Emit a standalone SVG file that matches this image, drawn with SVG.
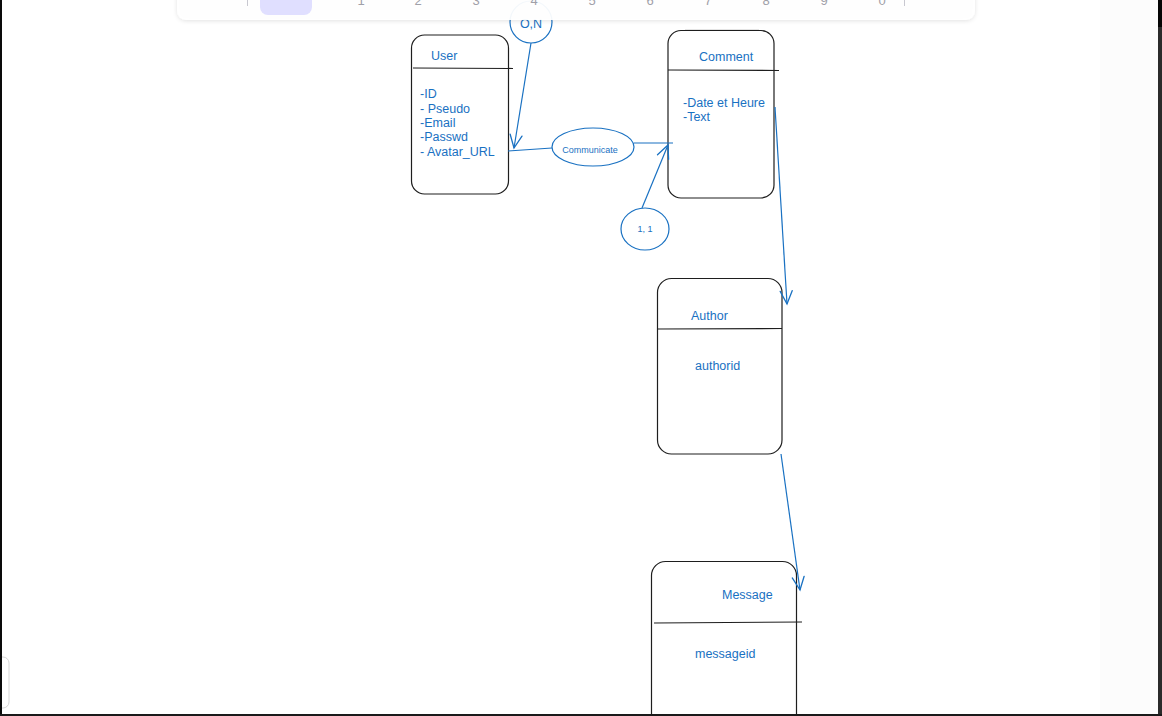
<svg xmlns="http://www.w3.org/2000/svg" width="1162" height="716" viewBox="0 0 1162 716">
  <defs>
    <marker id="arrow" markerWidth="18" markerHeight="18" refX="14" refY="7" orient="auto" markerUnits="userSpaceOnUse">
      <path d="M1,1 L14,7 L1,13" fill="none" stroke="#1971c2" stroke-width="1.3" stroke-linecap="round"/>
    </marker>
    <filter id="shadow" x="-5%" y="-50%" width="110%" height="200%">
      <feDropShadow dx="0" dy="1" stdDeviation="2" flood-color="#000" flood-opacity="0.12"/>
    </filter>
  </defs>
  <style>
    .box { fill: none; stroke: #1e1e1e; stroke-width: 1.2; }
    .div { stroke: #1e1e1e; stroke-width: 1.2; }
    .shape { fill: none; stroke: #1971c2; stroke-width: 1.2; }
    .edge { fill: none; stroke: #1971c2; stroke-width: 1.2; }
    .t { font-family: "Liberation Sans", Arial, sans-serif; fill: #1971c2; font-size: 12.5px; }
    .small { font-size: 9px; }
    .tool { font-family: "Liberation Sans", Arial, sans-serif; fill: #a0a0a8; font-size: 13px; text-anchor: middle; }
  </style>

  <!-- canvas -->
  <rect x="0" y="0" width="1162" height="716" fill="#ffffff"/>
  <rect x="1100" y="0" width="58" height="716" fill="#fcfcfc"/>

  <!-- cardinality O,N (partly under the toolbar) -->
  <g id="card-on">
    <ellipse class="shape" cx="531" cy="22" rx="21" ry="21"/>
    <text class="t" x="531" y="28" text-anchor="middle" font-size="11">O,N</text>
  </g>

  <!-- toolbar -->
  <g id="toolbar">
    <rect x="177" y="-40" width="798" height="60" rx="9" fill="#ffffff" fill-opacity="0.94" filter="url(#shadow)"/>
    <rect x="260" y="-30" width="52" height="45" rx="8" fill="#e0dfff"/>
    <line x1="247.5" y1="-5" x2="247.5" y2="6" stroke="#c8c8d0" stroke-width="1"/>
    <line x1="904.5" y1="-5" x2="904.5" y2="6" stroke="#c8c8d0" stroke-width="1"/>
    <text class="tool" x="361" y="5">1</text>
    <text class="tool" x="418" y="5">2</text>
    <text class="tool" x="476" y="5">3</text>
    <text class="tool" x="534" y="5">4</text>
    <text class="tool" x="592" y="5">5</text>
    <text class="tool" x="650" y="5">6</text>
    <text class="tool" x="708" y="5">7</text>
    <text class="tool" x="766" y="5">8</text>
    <text class="tool" x="824" y="5">9</text>
    <text class="tool" x="882" y="5">0</text>
  </g>
  <line x1="685" y1="29.5" x2="759" y2="29.5" stroke="#e4e4e4" stroke-width="1"/>

  <!-- corner panel -->
  <rect x="-20" y="657" width="29" height="51" rx="6" fill="#ffffff" stroke="#d6d6d6" stroke-width="1"/>

  <!-- User entity -->
  <g id="user">
    <rect class="box" x="411.5" y="35" width="97" height="159" rx="13"/>
    <line class="div" x1="413" y1="68" x2="513" y2="68.5"/>
    <text class="t" x="431" y="60">User</text>
    <text class="t" x="420" y="98">-ID</text>
    <text class="t" x="420" y="113">- Pseudo</text>
    <text class="t" x="420" y="127">-Email</text>
    <text class="t" x="420" y="141">-Passwd</text>
    <text class="t" x="420" y="156">- Avatar_URL</text>
  </g>

  <!-- Comment entity -->
  <g id="comment">
    <rect class="box" x="668" y="30.5" width="106" height="167.5" rx="13"/>
    <line class="div" x1="668" y1="70" x2="779" y2="70.5"/>
    <text class="t" x="699" y="61">Comment</text>
    <text class="t" x="683" y="107">-Date et Heure</text>
    <text class="t" x="683" y="121">-Text</text>
  </g>

  <!-- Author entity -->
  <g id="author">
    <rect class="box" x="657.5" y="278.5" width="124.5" height="175.5" rx="14"/>
    <line class="div" x1="657" y1="329" x2="782" y2="328.5"/>
    <text class="t" x="691" y="320">Author</text>
    <text class="t" x="695" y="370">authorid</text>
  </g>

  <!-- Message entity -->
  <g id="message">
    <rect class="box" x="651.5" y="561.5" width="145" height="180" rx="14"/>
    <line class="div" x1="654" y1="623" x2="802" y2="622"/>
    <text class="t" x="722" y="599">Message</text>
    <text class="t" x="695" y="658">messageid</text>
  </g>

  <!-- relation Communicate -->
  <g id="communicate">
    <ellipse class="shape" cx="593" cy="147" rx="41" ry="19"/>
    <text class="t small" x="590" y="153" text-anchor="middle">Communicate</text>
  </g>

  <!-- cardinality 1,1 -->
  <g id="card-11">
    <ellipse class="shape" cx="645" cy="229" rx="24" ry="21"/>
    <text class="t small" x="645" y="232" text-anchor="middle">1, 1</text>
  </g>

  <!-- connectors -->
  <g id="connectors">
    <line class="edge" x1="531" y1="43" x2="514" y2="148" marker-end="url(#arrow)"/>
    <line class="edge" x1="508" y1="151" x2="552" y2="148"/>
    <line class="edge" x1="634" y1="143" x2="673" y2="143"/>
    <line class="edge" x1="642" y1="208" x2="668" y2="145" marker-end="url(#arrow)"/>
    <line class="edge" x1="775" y1="107" x2="787" y2="304" marker-end="url(#arrow)"/>
    <line class="edge" x1="781" y1="454" x2="800" y2="590" marker-end="url(#arrow)"/>
  </g>

  <!-- window frame -->
  <rect x="0" y="0" width="2" height="716" fill="#0a0a0a"/>
  <rect x="1158" y="0" width="4" height="716" fill="#2b2b2b"/>
  <rect x="1158" y="0" width="4" height="27" fill="#050505"/>
  <rect x="0" y="714" width="1162" height="2" fill="#1a1a1a"/>
</svg>
